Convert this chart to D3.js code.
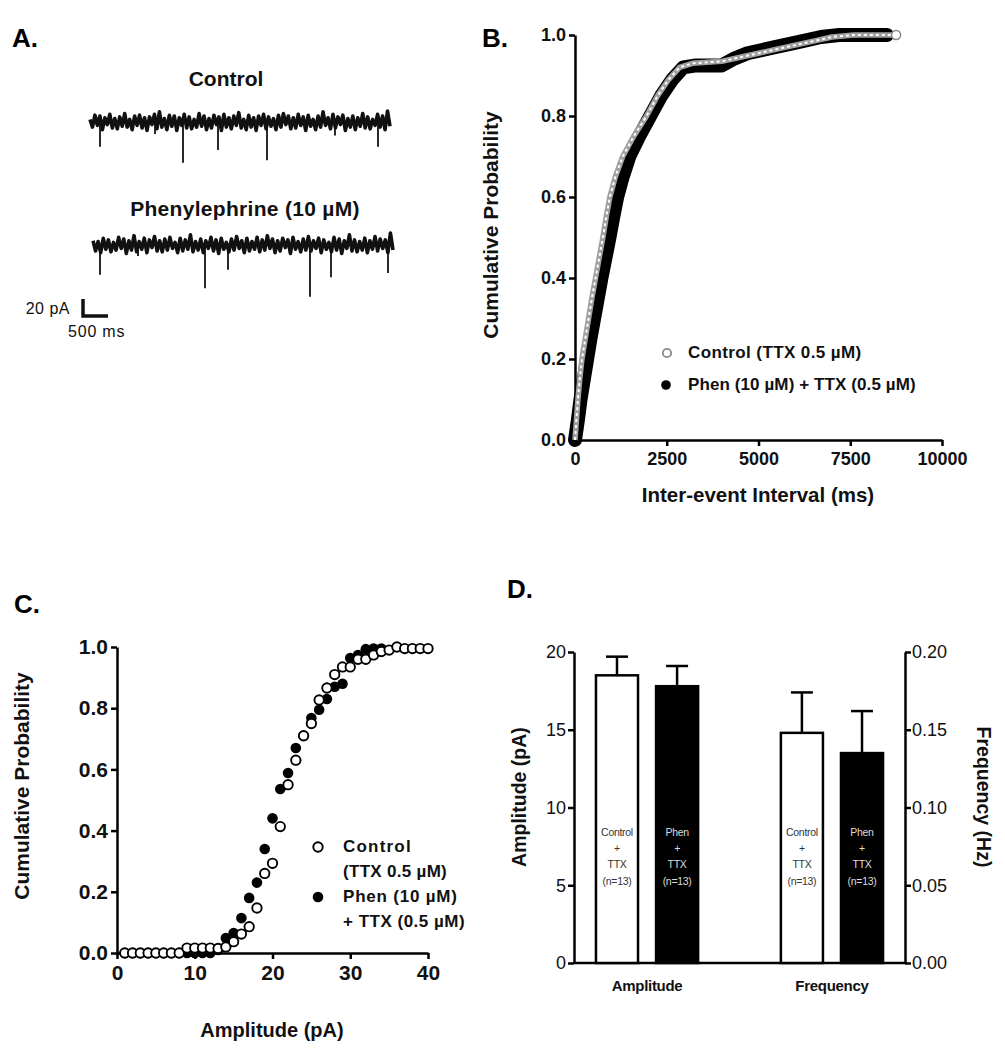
<!DOCTYPE html>
<html>
<head>
<meta charset="utf-8">
<script src="https://cdn.jsdelivr.net/npm/d3@7"></script>
<style>
  body { margin: 0; background: #fff; }
  svg { display: block; font-family: 'Liberation Sans', Arial, sans-serif; }
  .axis path, .axis line { stroke: #000; stroke-width: 2.5; }
  .axis text { font-family: 'Liberation Sans', Arial, sans-serif; font-weight: bold; fill: #111; }
  .axisB text { font-size: 18px; }
  .axisC text { font-size: 21px; }
  .axisD text { font-size: 18px; font-weight: normal; }
</style>
</head>
<body>
<svg id="fig" width="1005" height="1050"></svg>
<script>
// ---- Panel A: example traces (pA noise samples, events as [ms, pA]) ----
const controlNoise = [3,-6,8,-4,7,-9,5,-3,9,-7,4,-8,6,-5,10,-6,3,-9,7,-4,8,-7,5,-10,6,-3,9,-8,12,-6,4,-9,8,-5,7,-10,5,-4,9,-7,6,-8,3,-6,10,-5,7,-9,4,-7,8,-3,6,-10,9,-6,5,-8,7,-4,11,-7,3,-9,8,-6,5,-10,7,-4,9,-8,6,-5,4,-9,8,-6,10,-3,7,-8,5,-7,9,-4,6,-10,8,-5,3,-9,7,-6,12,-4,5,-8,9,-7,6,-3,8,-10,4,-6,7,-9,5,-5,10,-7,6,-8,3,-4,9,-6,7,-9,13,-5];
const phenNoise = [5,-7,4,-9,8,-5,6,-8,3,-6,9,-4,7,-10,5,-6,11,-8,4,-5,8,-9,6,-3,10,-7,5,-8,7,-6,9,-4,3,-9,8,-7,6,-5,12,-8,4,-6,7,-9,5,-4,9,-7,6,-10,8,-5,3,-8,7,-6,10,-4,5,-9,8,-7,4,-5,9,-8,6,-6,11,-4,7,-9,5,-7,8,-3,6,-10,9,-5,4,-8,7,-6,10,-7,5,-4,8,-9,6,-5,3,-8,9,-6,7,-10,5,-4,12,-7,6,-8,4,-6,8,-9,5,-5,10,-7,7,-4,6,-9,14,-6];
const controlEvents = [[200, 29], [1300, 14], [1860, 48], [2560, 33], [3540, 45], [4900, 16], [5760, 29]];
const phenEvents = [[140, 35], [900, 13], [2240, 51], [2700, 29], [4340, 61], [4760, 38], [5900, 33]];
const traceDuration = 6000;

// ---- Panel B: cumulative inter-event interval [ms, probability] ----
const ieiControl = [[0,0],[40,0.05],[80,0.1],[130,0.15],[190,0.2],[280,0.25],[370,0.3],[460,0.35],[560,0.4],[660,0.45],[760,0.5],[850,0.55],[950,0.6],[1100,0.65],[1300,0.7],[1600,0.75],[1950,0.8],[2250,0.85],[2550,0.89],[2850,0.92],[3200,0.93],[4000,0.935],[4500,0.945],[5000,0.955],[5500,0.965],[6000,0.975],[6500,0.985],[7000,0.995],[7600,1.0],[8750,1.0]];
const ieiPhen = [[0,0],[80,0.05],[150,0.1],[240,0.15],[330,0.2],[420,0.25],[520,0.3],[620,0.35],[720,0.4],[830,0.45],[940,0.5],[1040,0.55],[1150,0.6],[1300,0.65],[1480,0.7],[1750,0.75],[2050,0.8],[2350,0.85],[2650,0.89],[2950,0.92],[3300,0.925],[4000,0.925],[4300,0.94],[4700,0.955],[5200,0.965],[5700,0.975],[6200,0.985],[6700,0.995],[7200,1.0],[8500,1.0]];

// ---- Panel C: cumulative amplitude [pA, probability] ----
const ampControl = [[1,0],[2,0],[3,0],[4,0],[5,0],[6,0],[7,0],[8,0],[9,0.016],[10,0.016],[11,0.016],[12,0.016],[13,0.015],[14,0.02],[15,0.037],[16,0.062],[17,0.086],[18,0.147],[19,0.26],[20,0.293],[21,0.413],[22,0.55],[23,0.63],[24,0.71],[25,0.75],[26,0.827],[27,0.866],[28,0.91],[29,0.935],[30,0.935],[31,0.96],[32,0.96],[33,0.974],[34,0.985],[35,0.99],[36,1.0],[37,0.995],[38,0.995],[39,0.995],[40,0.995]];
const ampPhen = [[1,0],[2,0],[3,0],[4,0],[5,0],[6,0],[7,0],[8,0],[9,0],[10,0],[11,0],[12,0],[13,0.01],[14,0.049],[15,0.065],[16,0.114],[17,0.18],[18,0.23],[19,0.34],[20,0.44],[21,0.536],[22,0.588],[23,0.67],[24,0.71],[25,0.768],[26,0.795],[27,0.83],[28,0.87],[29,0.88],[30,0.964],[31,0.974],[32,0.993],[33,0.995],[34,0.995]];

// ---- Panel D: bar chart (mean, SEM) ----
const groups = ['Amplitude', 'Frequency'];
const conditions = ['Control', 'Phen'];
const amplitudeMean = [18.5, 17.8];
const amplitudeSem = [1.2, 1.3];
const frequencyMean = [0.148, 0.135];
const frequencySem = [0.026, 0.027];
const barLabels = [['Control', '+', 'TTX', '(n=13)'], ['Phen', '+', 'TTX', '(n=13)']];

const svg = d3.select('#fig');

function panelLetter(x, y, t) {
  svg.append('text').attr('x', x).attr('y', y).text(t)
    .attr('font-size', 26).attr('font-weight', 'bold');
}

function addText(x, y, t, size, opts = {}) {
  const el = svg.append('text').attr('x', x).attr('y', y).text(t)
    .attr('font-size', size)
    .attr('font-weight', opts.weight || 'bold')
    .attr('text-anchor', opts.anchor || 'start')
    .attr('dominant-baseline', 'middle')
    .attr('fill', opts.fill || '#111');
  if (opts.rotate) el.attr('transform', `rotate(${opts.rotate},${x},${y})`);
  if (opts.spacing) el.attr('letter-spacing', opts.spacing);
  return el;
}

// ================= Panel A =================
panelLetter(12, 47, 'A.');

function drawTrace(noise, events, x0, x1, base) {
  const x = d3.scaleLinear().domain([0, traceDuration]).range([x0, x1]);
  const y = d3.scaleLinear().domain([-20, 0]).range([base + 17, base]);
  const step = traceDuration / (noise.length - 1);
  const line = d3.line().x((d, i) => x(i * step)).y(d => y(d));
  svg.append('path').datum(noise).attr('d', line)
    .attr('fill', 'none').attr('stroke', '#111').attr('stroke-width', 3.6)
    .attr('stroke-linejoin', 'round');
  svg.append('g').selectAll('line').data(events).join('line')
    .attr('x1', d => x(d[0])).attr('x2', d => x(d[0]))
    .attr('y1', y(0)).attr('y2', d => y(-d[1]))
    .attr('stroke', '#111').attr('stroke-width', 1.8);
  return { x, y };
}

addText(226, 80, 'Control', 21, { anchor: 'middle' });
drawTrace(controlNoise, controlEvents, 90, 390, 122);
addText(245, 210, 'Phenylephrine (10 µM)', 21, { anchor: 'middle', spacing: 0.3 });
const trB = drawTrace(phenNoise, phenEvents, 93, 393, 245);

// scale bar: 20 pA, 500 ms
const sbX = d3.scaleLinear().domain([0, traceDuration]).range([0, 300]);
const sbY = trB.y;
const sbLeft = 83, sbBottom = 316;
svg.append('path')
  .attr('d', `M${sbLeft},${sbBottom - (sbY(-20) - sbY(0))}V${sbBottom}H${sbLeft + sbX(500)}`)
  .attr('fill', 'none').attr('stroke', '#111').attr('stroke-width', 3.5);
addText(70, 310, '20 pA', 16, { anchor: 'end', weight: 'normal', spacing: 0.5 });
addText(68, 333, '500 ms', 16, { weight: 'normal', spacing: 0.8 });

// ================= Panel B =================
panelLetter(482, 47, 'B.');
const xB = d3.scaleLinear().domain([0, 10000]).range([575, 942]);
const yB = d3.scaleLinear().domain([0, 1]).range([440, 35]);

svg.append('g').attr('class', 'axis axisB').attr('transform', `translate(0,${yB(0)})`)
  .call(d3.axisBottom(xB).tickValues([0, 2500, 5000, 7500, 10000]).tickSize(6).tickSizeOuter(0).tickPadding(6).tickFormat(d3.format('d')));
svg.append('g').attr('class', 'axis axisB').attr('transform', `translate(${xB(0)},0)`)
  .call(d3.axisLeft(yB).tickValues([0, 0.2, 0.4, 0.6, 0.8, 1.0]).tickSize(6).tickSizeOuter(0).tickPadding(3).tickFormat(d3.format('.1f')));

const lineB = d3.line().x(d => xB(d[0])).y(d => yB(d[1]));
svg.append('path').datum(ieiPhen).attr('d', lineB)
  .attr('fill', 'none').attr('stroke', '#000').attr('stroke-width', 14)
  .attr('stroke-linejoin', 'round').attr('stroke-linecap', 'round');
svg.append('path').datum(ieiControl).attr('d', lineB)
  .attr('fill', 'none').attr('stroke', '#a0a0a0').attr('stroke-width', 5.5)
  .attr('stroke-linejoin', 'round');
svg.append('path').datum(ieiControl).attr('d', lineB)
  .attr('fill', 'none').attr('stroke', '#fff').attr('stroke-width', 2)
  .attr('stroke-dasharray', '3,3');
svg.append('g').selectAll('circle').data(ieiControl.slice(-1)).join('circle')
  .attr('cx', d => xB(d[0])).attr('cy', d => yB(d[1])).attr('r', 4.5)
  .attr('fill', '#fff').attr('stroke', '#888').attr('stroke-width', 1.5);

svg.append('circle').attr('cx', 667).attr('cy', 353).attr('r', 4.2)
  .attr('fill', '#fff').attr('stroke', '#888').attr('stroke-width', 1.8);
addText(688, 354, 'Control (TTX 0.5 µM)', 17, { spacing: 0.4 });
svg.append('circle').attr('cx', 666).attr('cy', 385).attr('r', 4.8).attr('fill', '#000');
addText(688, 386, 'Phen (10 µM) + TTX (0.5 µM)', 17, { spacing: 0.1 });

addText(492, 225, 'Cumulative Probability', 21, { anchor: 'middle', rotate: -90 });
addText(758, 497, 'Inter-event Interval (ms)', 20.5, { anchor: 'middle' });

// ================= Panel C =================
panelLetter(14, 613, 'C.');
const xC = d3.scaleLinear().domain([0, 40]).range([117, 428]);
const yC = d3.scaleLinear().domain([0, 1]).range([953, 647]);

svg.append('g').attr('class', 'axis axisC').attr('transform', `translate(0,${yC(0)})`)
  .call(d3.axisBottom(xC).tickValues([0, 10, 20, 30, 40]).tickSize(6).tickSizeOuter(0).tickPadding(6));
svg.append('g').attr('class', 'axis axisC').attr('transform', `translate(${xC(0)},0)`)
  .call(d3.axisLeft(yC).tickValues([0, 0.2, 0.4, 0.6, 0.8, 1.0]).tickSize(6).tickSizeOuter(0).tickPadding(3).tickFormat(d3.format('.1f')));

svg.append('g').selectAll('circle').data(ampPhen).join('circle')
  .attr('cx', d => xC(d[0])).attr('cy', d => yC(d[1])).attr('r', 5.3)
  .attr('fill', '#000');
svg.append('g').selectAll('circle').data(ampControl).join('circle')
  .attr('cx', d => xC(d[0])).attr('cy', d => yC(d[1])).attr('r', 4.7)
  .attr('fill', '#fff').attr('stroke', '#000').attr('stroke-width', 1.9);

svg.append('circle').attr('cx', 318).attr('cy', 847).attr('r', 4.7)
  .attr('fill', '#fff').attr('stroke', '#000').attr('stroke-width', 1.9);
addText(343, 848, 'Control', 17, { spacing: 1.2 });
addText(343, 873, '(TTX 0.5 µM)', 17, { spacing: 0.3 });
svg.append('circle').attr('cx', 318).attr('cy', 897).attr('r', 5.3).attr('fill', '#000');
addText(343, 898, 'Phen (10 µM)', 17, { spacing: 0.8 });
addText(343, 923, '+ TTX (0.5 µM)', 17, { spacing: 0.5 });

addText(23, 786, 'Cumulative Probability', 21, { anchor: 'middle', rotate: -90 });
addText(272, 1032, 'Amplitude (pA)', 20, { anchor: 'middle' });

// ================= Panel D =================
panelLetter(507, 598, 'D.');
const yDL = d3.scaleLinear().domain([0, 20]).range([963, 652]);
const yDR = d3.scaleLinear().domain([0, 0.2]).range([963, 652]);
const xD = d3.scaleBand().domain(groups).range([574, 905]).paddingInner(0.35).paddingOuter(0.07);
const xDi = d3.scaleBand().domain(conditions).range([0, xD.bandwidth()]).paddingInner(0.3).paddingOuter(0.15);

svg.append('g').attr('class', 'axis axisD').attr('transform', `translate(574,0)`)
  .call(d3.axisLeft(yDL).tickValues([0, 5, 10, 15, 20]).tickSize(6).tickSizeOuter(0).tickPadding(2));
svg.append('g').attr('class', 'axis axisD').attr('transform', `translate(905,0)`)
  .call(d3.axisRight(yDR).tickValues([0, 0.05, 0.1, 0.15, 0.2]).tickSize(6).tickSizeOuter(0).tickPadding(1).tickFormat(d3.format('.2f')));
svg.append('line').attr('x1', 574).attr('x2', 905).attr('y1', yDL(0)).attr('y2', yDL(0))
  .attr('stroke', '#000').attr('stroke-width', 2.5);

const barData = [
  ...conditions.map((c, i) => ({ group: 'Amplitude', cond: c, i, top: yDL(amplitudeMean[i]), err: yDL(amplitudeMean[i] + amplitudeSem[i]) })),
  ...conditions.map((c, i) => ({ group: 'Frequency', cond: c, i, top: yDR(frequencyMean[i]), err: yDR(frequencyMean[i] + frequencySem[i]) })),
];
const bx = d => xD(d.group) + xDi(d.cond);
const bw = xDi.bandwidth();

const errG = svg.append('g').attr('stroke', '#000').attr('stroke-width', 2.5);
errG.selectAll('line.v').data(barData).join('line').attr('class', 'v')
  .attr('x1', d => bx(d) + bw / 2).attr('x2', d => bx(d) + bw / 2)
  .attr('y1', d => d.top).attr('y2', d => d.err);
errG.selectAll('line.c').data(barData).join('line').attr('class', 'c')
  .attr('x1', d => bx(d) + bw / 2 - 11).attr('x2', d => bx(d) + bw / 2 + 11)
  .attr('y1', d => d.err).attr('y2', d => d.err);

svg.append('g').selectAll('rect').data(barData).join('rect')
  .attr('x', d => bx(d)).attr('width', bw)
  .attr('y', d => d.top).attr('height', d => yDL(0) - d.top)
  .attr('fill', d => d.i === 0 ? '#fff' : '#000')
  .attr('stroke', '#000').attr('stroke-width', 2.5);

barData.forEach(d => {
  barLabels[d.i].forEach((t, k) => {
    svg.append('text').attr('x', bx(d) + bw / 2).attr('y', 833 + k * 16.3)
      .attr('text-anchor', 'middle').attr('dominant-baseline', 'middle')
      .attr('font-size', 10.5).attr('letter-spacing', -0.3)
      .attr('fill', d.i === 0 ? '#333' : '#ddd').text(t);
  });
});

groups.forEach(g => addText(xD(g) + xD.bandwidth() / 2, 987, g, 15, { anchor: 'middle', spacing: -0.3 }));

addText(521, 797, 'Amplitude (pA)', 19.5, { anchor: 'middle', rotate: -90 });
addText(982, 797, 'Frequency (Hz)', 19.5, { anchor: 'middle', rotate: 90 });
</script>
</body>
</html>
